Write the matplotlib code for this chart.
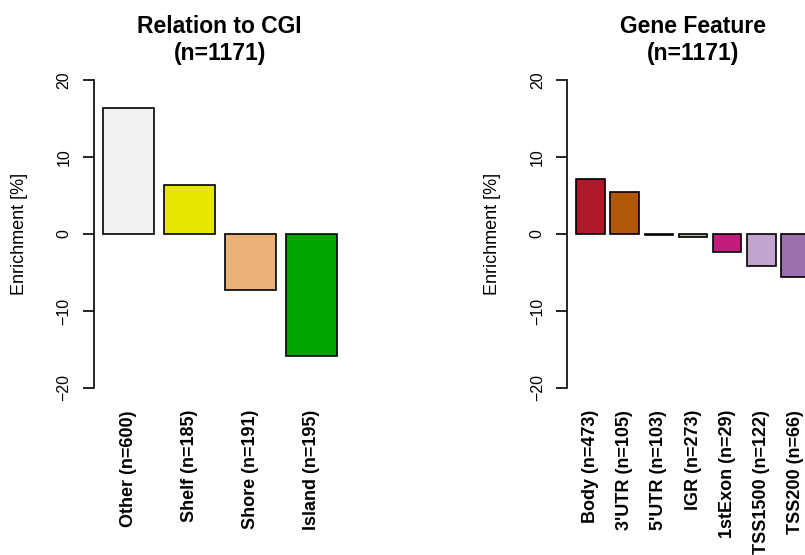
import numpy as np
import matplotlib
matplotlib.use("Agg")
import matplotlib.pyplot as plt

plt.rcParams['font.family'] = ['Liberation Sans', 'DejaVu Sans']

# Relation to CGI
cgi_labels = ['Other (n=600)', 'Shelf (n=185)', 'Shore (n=191)', 'Island (n=195)']
cgi_values = [16.4, 6.4, -7.3, -15.8]
cgi_colors = ['#F2F2F2', '#E6E600', '#ECB176', '#00A600']

# Gene Feature
gene_labels = ['Body (n=473)', "3'UTR (n=105)", "5'UTR (n=103)", 'IGR (n=273)',
               '1stExon (n=29)', 'TSS1500 (n=122)', 'TSS200 (n=66)']
gene_values = [7.1, 5.4, -0.15, -0.4, -2.4, -4.15, -5.6]
gene_colors = ['#B2182B', '#B35806', '#E08214', '#B4BC9C', '#C51B7D', '#C2A5CF', '#9970AB']

W, H = 805, 555


def barpanel(left_px, width_px, labels, values, colors, title):
    # plot region in pixels (R style: top 67.7, bottom 400.3)
    top, bottom = 67.7, 400.3
    ax = fig.add_axes([left_px / W, (H - bottom) / H, width_px / W, (bottom - top) / H])
    n = len(values)
    x = 0.7 + 1.2 * np.arange(n)
    ax.bar(x, values, width=1.0, color=colors, edgecolor='black', linewidth=1.2)
    span = 1.2 * n - 0.2
    ax.set_xlim(0.2 - 0.04 * span, 1.2 * n + 0.04 * span)
    ax.set_ylim(-21.6, 21.6)
    for s in ['top', 'right', 'bottom']:
        ax.spines[s].set_visible(False)
    ax.spines['left'].set_bounds(-20, 20)
    ax.spines['left'].set_linewidth(1.2)
    ax.set_yticks([-20, -10, 0, 10, 20])
    ax.set_yticklabels(['\u221220', '\u221210', '0', '10', '20'], rotation=90, va='center',
                       fontsize=11.5)
    ax.tick_params(axis='y', length=8, width=1.2, pad=8)
    ax.set_xticks(x)
    ax.set_xticklabels(labels, rotation=90, fontweight='bold', fontsize=13, va='top')
    ax.tick_params(axis='x', length=0, pad=7)
    ax.set_ylabel('Enrichment [%]', fontsize=13)
    ax.yaxis.set_label_coords(-0.26, 0.5)
    ax.text(0.5, 1.008, title, transform=ax.transAxes, ha='center', va='bottom',
            fontsize=16.5, fontweight='bold', linespacing=1.25)
    return ax


fig = plt.figure(figsize=(W / 100, H / 100), dpi=100)
barpanel(93.6, 252.4, cgi_labels, cgi_values, cgi_colors, 'Relation to CGI\n(n=1171)')
barpanel(567.0, 252.0, gene_labels, gene_values, gene_colors, 'Gene Feature\n(n=1171)')

fig.savefig('out.png', dpi=100)
